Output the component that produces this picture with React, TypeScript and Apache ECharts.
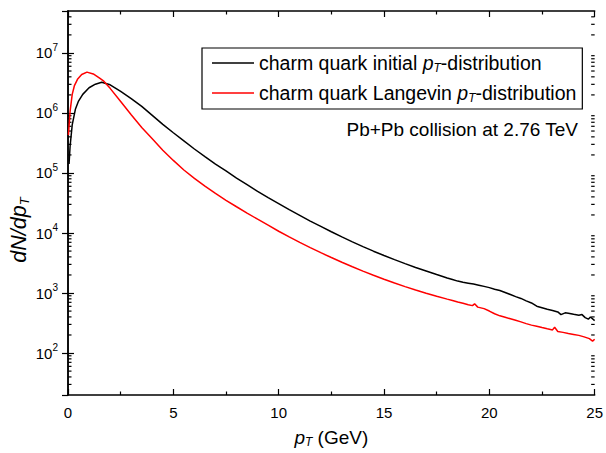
import React, { useEffect, useRef } from "react";
import * as echarts from "echarts";

// pT (GeV) sample points and dN/dpT values
const initialPt = [
  0.05, 0.1, 0.2, 0.35, 0.5, 0.7, 1.0, 1.3, 1.6, 2.0, 2.5, 3.0, 3.5, 4.0, 4.5, 5.0, 5.5, 6.0, 6.5, 7.0,
  7.5, 8.0, 8.5, 9.0, 9.5, 10.0, 10.5, 11.0, 11.5, 12.0, 12.5, 13.0, 13.5, 14.0, 14.5, 15.0, 15.5, 16.0,
  16.5, 17.0, 17.5, 18.0, 18.25, 18.5, 18.75, 19.0, 19.25, 19.5, 19.75, 20.0, 20.25, 20.5, 20.75, 21.0,
  21.25, 21.5, 21.75, 22.0, 22.25, 22.5, 22.75, 23.0, 23.25, 23.4, 23.6, 23.75, 24.0, 24.25, 24.4, 24.55,
  24.7, 24.8, 25.0,
];
const initialVals = [
  1.41e5, 2.82e5, 6.31e5, 1.15e6, 1.58e6, 2.04e6, 2.63e6, 3.02e6, 3.24e6, 2.95e6, 2.29e6, 1.74e6, 1.29e6,
  9.12e5, 6.46e5, 4.68e5, 3.43e5, 2.51e5, 1.88e5, 1.41e5, 1.08e5, 8.22e4, 6.38e4, 4.95e4, 3.89e4, 3.09e4,
  2.45e4, 1.97e4, 1.58e4, 1.29e4, 1.05e4, 8610, 7130, 5920, 4980, 4220, 3600, 3090, 2670, 2330, 2030, 1780,
  1680, 1580, 1510, 1460, 1410, 1350, 1290, 1230, 1160, 1100, 1020, 944, 871, 813, 741, 684, 603, 569, 537,
  513, 484, 437, 468, 462, 442, 427, 437, 389, 367, 398, 347,
];

const langevinPt = [
  0.02, 0.1, 0.2, 0.3, 0.45, 0.65, 0.9, 1.2, 1.5, 1.7, 2.0, 2.5, 3.0, 3.5, 4.0, 4.5, 5.0, 5.5, 6.0, 6.5,
  7.0, 7.5, 8.0, 8.5, 9.0, 9.5, 10.0, 10.5, 11.0, 11.5, 12.0, 12.5, 13.0, 13.5, 14.0, 14.5, 15.0, 15.5,
  16.0, 16.5, 17.0, 17.5, 18.0, 18.25, 18.5, 18.75, 19.0, 19.2, 19.3, 19.45, 19.75, 20.0, 20.25, 20.5,
  20.75, 21.0, 21.25, 21.5, 21.75, 22.0, 22.25, 22.5, 22.75, 23.0, 23.1, 23.25, 23.5, 23.75, 24.0, 24.25,
  24.5, 24.75, 24.9, 25.0,
];
const langevinVals = [
  4.27e5, 1.07e6, 2.04e6, 2.82e6, 3.63e6, 4.37e6, 4.79e6, 4.47e6, 3.8e6, 3.39e6, 2.57e6, 1.55e6, 9.33e5,
  5.75e5, 3.72e5, 2.4e5, 1.62e5, 1.12e5, 8.13e4, 6.03e4, 4.57e4, 3.51e4, 2.74e4, 2.15e4, 1.7e4, 1.35e4,
  1.07e4, 8610, 6980, 5700, 4700, 3900, 3260, 2740, 2320, 1980, 1700, 1470, 1280, 1120, 993, 883, 791,
  750, 708, 676, 638, 617, 661, 582, 550, 501, 452, 417, 394, 372, 351, 331, 309, 292, 279, 266, 254, 243,
  269, 229, 221, 211, 204, 197, 186, 174, 158, 170,
];

const seriesNames = ["charm quark initial", "charm quark Langevin"];
const xTicks = [0, 5, 10, 15, 20, 25];
const yDecades = [2, 3, 4, 5, 6, 7];
const minorMantissas = [2, 3, 4, 5, 6, 7, 8, 9];
const annotation = "Pb+Pb collision at 2.76 TeV";

const Y_MIN = 20;
const Y_MAX = 5e7;

export default function App() {
  const ref = useRef<HTMLDivElement>(null);

  useEffect(() => {
    if (!ref.current) return;
    const chart = echarts.init(ref.current, null, { renderer: "svg" });

    const minorVals: number[][] = [];
    for (let d = 1; d <= 7; d++) {
      for (const m of minorMantissas) {
        const v = m * Math.pow(10, d);
        if (v > Y_MIN && v < Y_MAX) minorVals.push([0, v]);
      }
    }

    const font = "Liberation Sans, Arial, sans-serif";
    const legendRich = {
      a: { fontFamily: font, fontSize: 19.5, color: "#000" },
      i: { fontFamily: font, fontSize: 19.5, fontStyle: "italic", color: "#000" },
      s: { fontFamily: font, fontSize: 12, fontStyle: "italic", color: "#000", padding: [10, 0, 0, 0] },
    };

    const option: any = {
      animation: false,
      backgroundColor: "#fff",
      grid: { left: 68, right: 9, top: 11, bottom: 55, containLabel: false },
      legend: {
        data: seriesNames,
        orient: "vertical",
        left: 202,
        top: 48,
        itemWidth: 42,
        itemHeight: 14,
        itemGap: 8,
        padding: [4, 6, 5, 10],
        borderColor: "#000",
        borderWidth: 1.2,
        icon: "path://M0,0 L42,0 L42,1.4 L0,1.4 Z",
        formatter: (name: string) => `{a|${name} }{i|p}{s|T}{a|-distribution}`,
        textStyle: { fontFamily: font, fontSize: 19.5, lineHeight: 22, rich: legendRich },
        selectedMode: false,
      },
      xAxis: [
        {
          type: "value",
          min: 0,
          max: 25,
          interval: 5,
          position: "bottom",
          axisLine: { show: true, lineStyle: { color: "#000", width: 1.5 } },
          axisTick: { show: true, inside: true, length: 6, lineStyle: { color: "#000", width: 1.2 } },
          minorTick: { show: true, splitNumber: 2, length: 3.5, lineStyle: { color: "#000", width: 1.2 } },
          axisLabel: {
            show: true,
            margin: 10,
            fontFamily: font,
            fontSize: 15,
            color: "#000",
            formatter: (v: number) => (xTicks.includes(v) ? String(v) : ""),
          },
          splitLine: { show: false },
          name: "{i|p}{s|T}{a| (GeV)}",
          nameLocation: "middle",
          nameGap: 32,
          nameTextStyle: {
            rich: {
              a: { fontFamily: font, fontSize: 19, color: "#000" },
              i: { fontFamily: font, fontSize: 19, fontStyle: "italic", color: "#000" },
              s: { fontFamily: font, fontSize: 12, fontStyle: "italic", color: "#000", padding: [9, 0, 0, 0] },
            },
          },
        },
        {
          type: "value",
          min: 0,
          max: 25,
          interval: 5,
          position: "top",
          axisLine: { show: true, lineStyle: { color: "#000", width: 1.5 } },
          axisTick: { show: true, inside: true, length: 6, lineStyle: { color: "#000", width: 1.2 } },
          minorTick: { show: true, splitNumber: 2, length: 3.5, lineStyle: { color: "#000", width: 1.2 } },
          axisLabel: { show: false },
          splitLine: { show: false },
        },
      ],
      yAxis: [
        {
          type: "log",
          logBase: 10,
          min: Y_MIN,
          max: Y_MAX,
          splitNumber: 7,
          position: "left",
          axisLine: { show: true, lineStyle: { color: "#000", width: 1.5 } },
          axisTick: { show: true, inside: true, length: 6, lineStyle: { color: "#000", width: 1.2 } },
          axisLabel: {
            show: true,
            margin: 10,
            color: "#000",
            showMinLabel: false,
            showMaxLabel: false,
            formatter: (v: number) => {
              const e = Math.log10(v);
              const r = Math.round(e);
              if (Math.abs(e - r) > 1e-6 || !yDecades.includes(r)) return "";
              return `{b|10}{s|${r}}`;
            },
            rich: {
              b: { fontFamily: font, fontSize: 15, color: "#000" },
              s: { fontFamily: font, fontSize: 10, color: "#000", padding: [0, 0, 11, 0] },
            },
          },
          splitLine: { show: false },
        },
        {
          type: "log",
          logBase: 10,
          min: Y_MIN,
          max: Y_MAX,
          splitNumber: 7,
          position: "right",
          axisLine: { show: true, lineStyle: { color: "#000", width: 1.5 } },
          axisTick: { show: true, inside: true, length: 6, lineStyle: { color: "#000", width: 1.2 } },
          axisLabel: { show: false },
          splitLine: { show: false },
        },
      ],
      graphic: [
        {
          type: "text",
          x: 19,
          y: 230,
          rotation: Math.PI / 2,
          style: {
            text: "{i|dN/dp}{s|T}",
            align: "center",
            verticalAlign: "middle",
            rich: {
              i: { fontFamily: font, fontSize: 21.5, fontStyle: "italic", fill: "#000" },
              s: { fontFamily: font, fontSize: 13, fontStyle: "italic", fill: "#000", padding: [11, 0, 0, 0] },
            },
          },
        },
        {
          type: "text",
          x: 578,
          y: 129,
          style: {
            text: annotation,
            align: "right",
            verticalAlign: "middle",
            fontFamily: font,
            fontSize: 19,
            fill: "#000",
          },
        },
      ],
      series: [
        {
          name: seriesNames[0],
          type: "line",
          data: initialPt.map((p, i) => [p, initialVals[i]]),
          symbol: "none",
          lineStyle: { color: "#000", width: 1.5 },
          itemStyle: { color: "#000" },
        },
        {
          name: seriesNames[1],
          type: "line",
          data: langevinPt.map((p, i) => [p, langevinVals[i]]),
          symbol: "none",
          lineStyle: { color: "#ff0000", width: 1.5 },
          itemStyle: { color: "#ff0000" },
        },
        {
          name: "minorTicks",
          type: "custom",
          silent: true,
          data: minorVals,
          renderItem: (params: any, api: any) => {
            const v = api.value(1);
            const p = api.coord([0, v]);
            const q = api.coord([25, v]);
            return {
              type: "group",
              children: [
                { type: "line", shape: { x1: p[0], y1: p[1], x2: p[0] + 3.5, y2: p[1] }, style: { stroke: "#000", lineWidth: 1.2 } },
                { type: "line", shape: { x1: q[0], y1: q[1], x2: q[0] - 3.5, y2: q[1] }, style: { stroke: "#000", lineWidth: 1.2 } },
              ],
            };
          },
        },
      ],
    };

    chart.setOption(option);
    return () => chart.dispose();
  }, []);

  return <div ref={ref} style={{ width: 606, height: 453, position: "absolute", left: 0, top: 0 }} />;
}
